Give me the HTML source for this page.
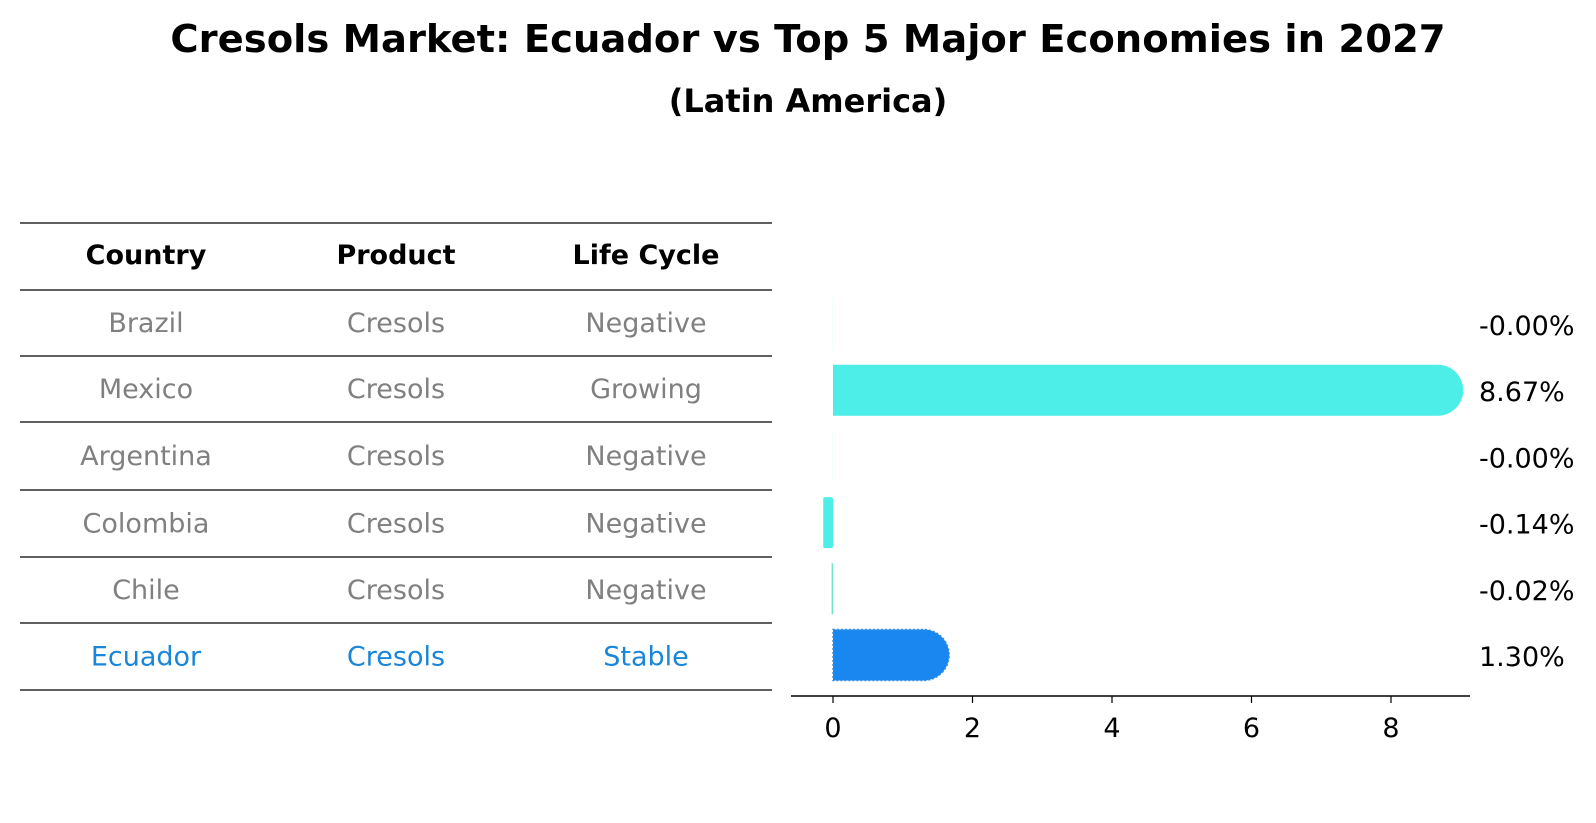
<!DOCTYPE html>
<html><head><meta charset="utf-8">
<style>
body{margin:0;background:#fff;font-family:"Liberation Sans","DejaVu Sans",sans-serif;}
#wrap{position:relative;width:1596px;height:823px;overflow:hidden;}
</style></head>
<body>
<div id="wrap">
<svg id="svg" width="1596" height="823" xmlns="http://www.w3.org/2000/svg">
<text x="808" y="52" text-anchor="middle" font-family="DejaVu Sans, sans-serif" font-weight="bold" font-size="38.5">Cresols Market: Ecuador vs Top 5 Major Economies in 2027</text>
<text x="808" y="112" text-anchor="middle" font-family="DejaVu Sans, sans-serif" font-weight="bold" font-size="32">(Latin America)</text>
<g id="table"></g>
<g id="bars"></g>
</svg>
</div>
<script>
const countries = ["Brazil","Mexico","Argentina","Colombia","Chile","Ecuador"];
const products = ["Cresols","Cresols","Cresols","Cresols","Cresols","Cresols"];
const lifeCycle = ["Negative","Growing","Negative","Negative","Negative","Stable"];
const values = [-0.001, 8.67, -0.001, -0.14, -0.02, 1.30];
const valueLabels = ["-0.00%","8.67%","-0.00%","-0.14%","-0.02%","1.30%"];
const xTicks = [0,2,4,6,8];

const NS="http://www.w3.org/2000/svg";
function mk(tag,attrs,parent,text){const e=document.createElementNS(NS,tag);for(const k in attrs)e.setAttribute(k,attrs[k]);if(text!==undefined)e.textContent=text;parent.appendChild(e);return e;}
const F="DejaVu Sans, sans-serif";
const FS=27;

// table
const tbl=document.getElementById('table');
const lineYs=[223,290,356,422,490,557,623,690];
const colX=[146,396,646];
lineYs.forEach((y,i)=>{
  const l=mk('line',{x1:20,x2:772,y1:y,y2:y,stroke:'#000','stroke-width':1.2},tbl);
  
  
});
["Country","Product","Life Cycle"].forEach((h,i)=>{
  const t=mk('text',{x:colX[i],y:264,'text-anchor':'middle','font-family':F,'font-weight':'bold','font-size':FS},tbl,h);
  
  
});
countries.forEach((c,r)=>{
  const y=(lineYs[r+1]+lineYs[r+2])/2+9;
  const col=c==="Ecuador"?"#1a86d9":"#808080";
  [c,products[r],lifeCycle[r]].forEach((v,i)=>{
    const t=mk('text',{x:colX[i],y:y,'text-anchor':'middle','font-family':F,'font-size':FS,fill:col},tbl,v);
    
    
  });
});

// bars
const g=document.getElementById('bars');
const x0=833, pxPer=(1391-833)/8;
const xs=v=>x0+v*pxPer;
const rowY=i=>324+i*66.2;
const bh=51, r=25.5;
values.forEach((v,i)=>{
  const cy=rowY(i), y=cy-bh/2;
  const isE=countries[i]==="Ecuador";
  const col=isE?"#1a86f0":(countries[i]==="Chile"?"#6fe3c8":"#4deee8");
  let el;
  if(v>0.5){
    const xe=xs(v);
    el=mk('path',{d:`M${x0},${y} H${xe} A${r},${r} 0 0 1 ${xe},${y+bh} H${x0} Z`,fill:col},g);
    if(isE){el.setAttribute('stroke','#3a8fe0');el.setAttribute('stroke-dasharray','2,2');el.setAttribute('stroke-width','1.5');}
  } else {
    const xe=xs(v);
    const w=Math.max(Math.abs(xe-x0),Math.abs(v)>0.01?1.5:0);
    el=mk('rect',{x:Math.min(xe,x0),y:y,width:w,height:bh,fill:col,rx:Math.abs(v)>0.1?2:0},g);
  }
  
  
  const t=mk('text',{x:1479,y:cy+11,'font-family':F,'font-size':FS},g,valueLabels[i]);
  
  
});
const ax=mk('line',{x1:791,x2:1470,y1:696,y2:696,stroke:'#000','stroke-width':1.5},g);


xTicks.forEach(t=>{
  const tk=mk('line',{x1:xs(t),x2:xs(t),y1:696,y2:703,stroke:'#000','stroke-width':1.2},g);
  
  
  const tl=mk('text',{x:xs(t),y:737,'text-anchor':'middle','font-family':F,'font-size':FS},g,String(t));
  
  
});
</script>
</body></html>
